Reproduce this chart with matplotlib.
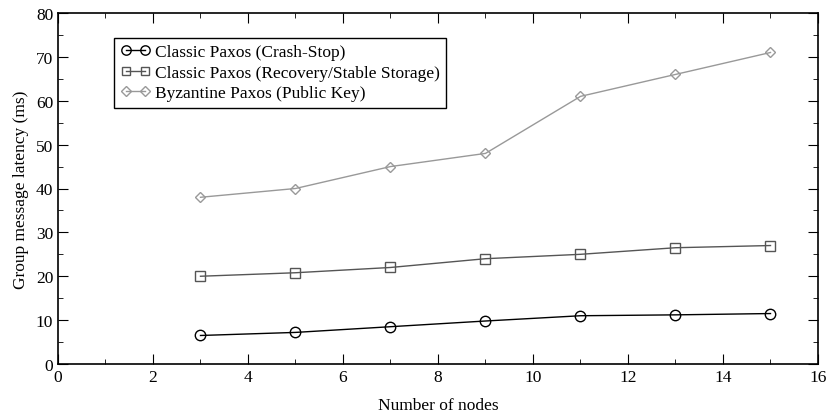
import matplotlib
matplotlib.use('Agg')
import matplotlib.pyplot as plt
from matplotlib.ticker import MultipleLocator

plt.rcParams['font.family'] = ['Liberation Serif', 'DejaVu Serif']

nodes = [3, 5, 7, 9, 11, 13, 15]
crash_stop = [6.5, 7.2, 8.5, 9.8, 11.0, 11.2, 11.5]
recovery = [20.0, 20.8, 22.0, 24.0, 25.0, 26.5, 27.0]
byzantine = [38, 40, 45, 48, 61, 66, 71]

series = [
    ('Classic Paxos (Crash-Stop)', crash_stop, 'o', '#000000', 7.5),
    ('Classic Paxos (Recovery/Stable Storage)', recovery, 's', '#555555', 7),
    ('Byzantine Paxos (Public Key)', byzantine, 'D', '#999999', 5.5),
]

fig = plt.figure(figsize=(8.29, 4.14), dpi=100)
ax = fig.add_axes([58 / 829, 49 / 414, 760 / 829, 351 / 414])

for label, vals, marker, color, ms in series:
    ax.plot(nodes, vals, color=color, marker=marker, markersize=ms,
            markerfacecolor='none', markeredgecolor=color,
            markeredgewidth=1.0, linewidth=1.0, label=label)

ax.set_xlim(0, 16)
ax.set_ylim(0, 80)
ax.xaxis.set_major_locator(MultipleLocator(2))
ax.xaxis.set_minor_locator(MultipleLocator(1))
ax.yaxis.set_major_locator(MultipleLocator(10))
ax.yaxis.set_minor_locator(MultipleLocator(5))
ax.tick_params(which='both', direction='in', top=True, right=True, labelsize=12.5)
ax.tick_params(which='major', length=7)
ax.tick_params(which='minor', length=3.6)
for sp in ax.spines.values():
    sp.set_linewidth(1.2)

ax.set_xlabel('Number of nodes', fontsize=12.5, labelpad=9)
ax.set_ylabel('Group message latency (ms)', fontsize=12.5, labelpad=5)

leg = ax.legend(loc='upper left', bbox_to_anchor=(0.074, 0.929), fontsize=12.5,
                numpoints=2, markerscale=0.9,
                handlelength=1.7, handletextpad=0.3, borderpad=0.35,
                borderaxespad=0, labelspacing=0.26, fancybox=False, framealpha=1)
leg.get_frame().set_edgecolor('black')
leg.get_frame().set_linewidth(1.0)

fig.savefig('out.png', dpi=100)
